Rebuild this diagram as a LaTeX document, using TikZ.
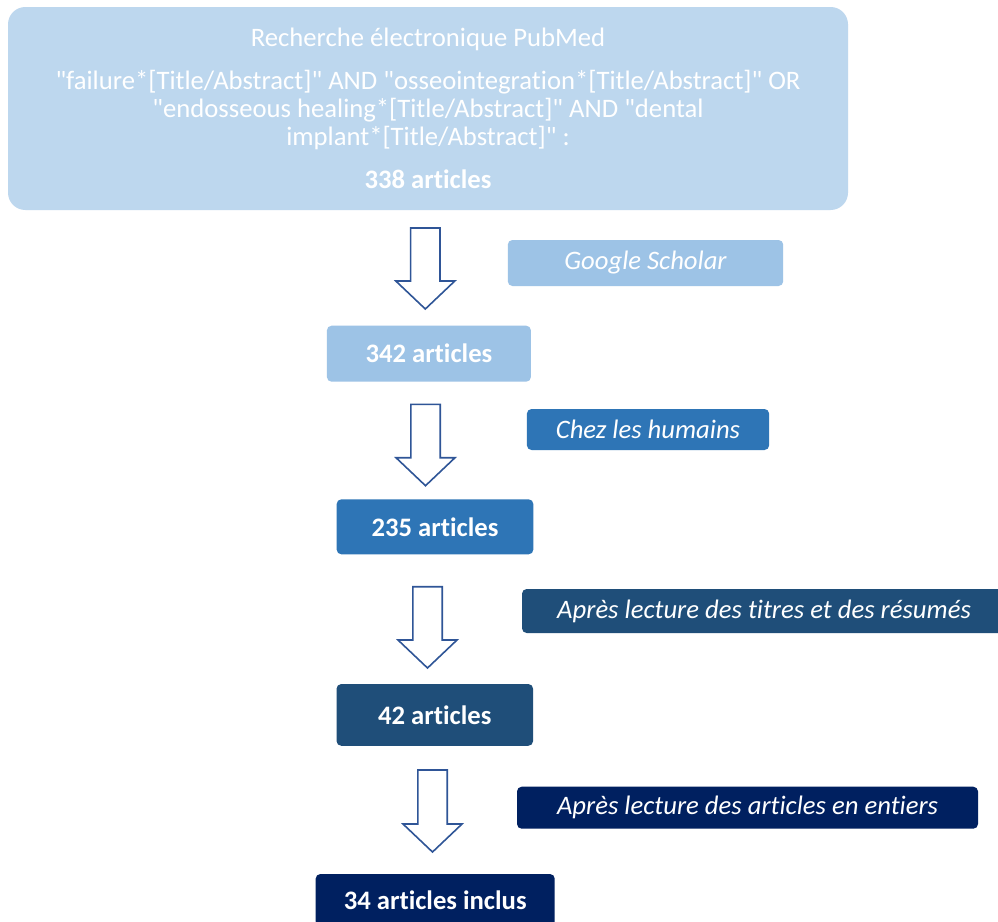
\documentclass[tikz,border=0pt]{standalone}
\usepackage{fontspec}
\setmainfont{Carlito}[Ligatures={TeXOff,CommonOff}]
\usepackage{tikz}
\usetikzlibrary{calc}
\definecolor{pale}{HTML}{BDD7EE}
\definecolor{light}{HTML}{9DC3E6}
\definecolor{mid}{HTML}{2E75B6}
\definecolor{deep}{HTML}{1F4E79}
\definecolor{navy}{HTML}{002060}
\definecolor{arrowc}{HTML}{2F5597}

\begin{document}
\begin{tikzpicture}[
  x=0.75pt,y=-0.75pt,
  box/.style={rounded corners=3.5pt,inner sep=0pt,align=center,text=white,font=\fontsize{20}{21}\selectfont},
  countbox/.style={box,font=\fontsize{20}{21}\selectfont\bfseries},
  stepbox/.style={box,font=\fontsize{20}{21}\selectfont\itshape},
  topbox/.style={box,rounded corners=13pt,fill=pale,minimum width=630pt,minimum height=152.25pt},
  blockarr/.style={draw=arrowc,line width=1.2pt,fill=white,line join=miter,
    to path={($(\tikztostart)+(-14.7,0)$) -- ($(\tikztostart)+(14.7,0)$)
      -- ($(\tikztotarget)+(14.7,-28)$) -- ($(\tikztotarget)+(29.5,-28)$)
      -- (\tikztotarget) -- ($(\tikztotarget)+(-29.5,-28)$)
      -- ($(\tikztotarget)+(-14.7,-28)$) -- cycle}}
]
  \path[use as bounding box,fill=white] (0,0) rectangle (998,921);

  \node[topbox] (pubmed) at (428,108.5) {Recherche électronique PubMed\\[11pt]
    "failure*[Title/Abstract]" AND "osseointegration*[Title/Abstract]" OR\\
    "endosseous healing*[Title/Abstract]" AND "dental\\
    implant*[Title/Abstract]" :\\[11pt]
    \textbf{338 articles}};

  \node[stepbox,fill=light,minimum width=206.6pt,minimum height=34.5pt] (scholar) at (645.5,263) {Google Scholar};
  \node[countbox,fill=light,minimum width=153pt,minimum height=42pt] (n342) at (428.9,353.7) {342 articles};

  \node[stepbox,fill=mid,minimum width=181.7pt,minimum height=30.75pt] (humains) at (648,429.5) {Chez les humains};
  \node[countbox,fill=mid,minimum width=147.5pt,minimum height=41.25pt] (n235) at (435,526.8) {235 articles};

  \node[stepbox,fill=deep,minimum width=363pt,minimum height=33pt] (titres) at (764,611) {Après lecture des titres et des résumés};
  \node[countbox,fill=deep,minimum width=147.4pt,minimum height=46.3pt] (n42) at (434.8,714.9) {42 articles};

  \node[stepbox,fill=navy,minimum width=345.75pt,minimum height=31.5pt] (entiers) at (747.5,807.7) {Après lecture des articles en entiers};
  \node[countbox,fill=navy,minimum width=179.3pt,minimum height=39pt] (n34) at (435.2,900) {34 articles inclus};

  \coordinate (a1) at (425.3,228);
  \coordinate (b1) at (425.3,309);
  \coordinate (a2) at (425.5,404.3);
  \coordinate (b2) at (425.5,485.7);
  \coordinate (a3) at (427.5,586.7);
  \coordinate (b3) at (427.5,668);
  \coordinate (a4) at (432.5,770);
  \coordinate (b4) at (432.5,852);

  \draw[blockarr] (a1) to (b1);
  \draw[blockarr] (a2) to (b2);
  \draw[blockarr] (a3) to (b3);
  \draw[blockarr] (a4) to (b4);
\end{tikzpicture}
\end{document}
